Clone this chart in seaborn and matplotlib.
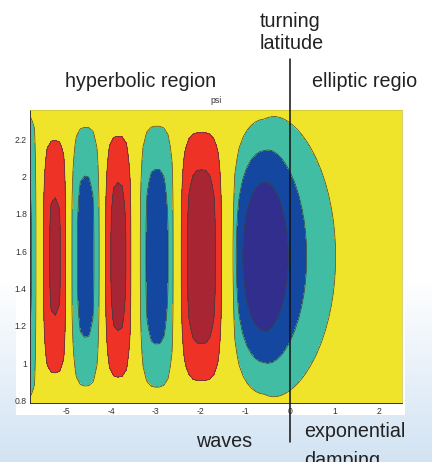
import numpy as np
import seaborn as sns
import matplotlib.pyplot as plt
import matplotlib.transforms as mtransforms
from matplotlib.patches import Rectangle

# wave lobes of psi west of the turning latitude
small_center = [-5.82, -5.26, -4.57, -3.84, -2.975, -1.977]
small_amp = [-0.573, 0.58, -0.615, 0.61, -0.636, 0.655]
small_xhalf = [0.205, 0.354, 0.41, 0.379, 0.491, 0.586]
small_yhalf = [1.03, 0.85, 0.919, 0.858, 0.914, 0.858]
shape_power = 3
# big lobe at the turning latitude, damped to the east
big_center = -0.55
big_amp = -1.0
big_left_curv = 1.0
big_left = 0.851
big_left_power = 14
tail_width = 1.06
tail_power = 1.55
lat_power = 3.5
lat_spread = 0.26

levels = [-2.0, -0.75, -0.55, -0.35, 0.35, 0.55, 2.0]
band_colors = ['#322E8E', '#1448A0', '#40BDA3', '#F0E42A', '#EE3326', '#A82634']

x_lim = (-5.81, 2.51)
y_lim = (np.pi / 4, 3 * np.pi / 4)
x_ticks = [-5, -4, -3, -2, -1, 0, 1, 2]
y_ticks = [0.8, 1.0, 1.2, 1.4, 1.6, 1.8, 2.0, 2.2]
y_ticklabels = ['0.8', '1', '1.2', '1.4', '1.6', '1.8', '2', '2.2']

sns.set_style("white")
plt.rcParams['font.family'] = ['Liberation Sans', 'DejaVu Sans']
plt.rcParams['axes.unicode_minus'] = False

# field on a coarse grid like the original
x = np.linspace(x_lim[0], x_lim[1], 90)
y = np.linspace(y_lim[0], y_lim[1], 25)
X, Y = np.meshgrid(x, y)
dy = Y - np.pi / 2
Z = np.zeros_like(X)
for c, a, hx, hy in zip(small_center, small_amp, small_xhalf, small_yhalf):
    gx = np.clip(1 - np.abs((X - c) / hx) ** shape_power, 0, None)
    gy = np.clip(1 - np.abs(dy / hy) ** shape_power, 0, None)
    Z += a * gx * gy

D = X - big_center
prof = np.zeros_like(X)
left = D <= 0
dl = np.abs(D[left])
prof[left] = np.clip(1 - big_left_curv * dl ** 2 - (dl / big_left) ** big_left_power, 0, None)
right = D > 0
prof[right] = 1 / (1 + (D[right] / tail_width) ** tail_power)
# the lobe widens in latitude toward the east
stretch = 1 + lat_spread * np.clip(D, 0, None)
lat = np.cos(np.clip(dy / stretch, -np.pi / 2, np.pi / 2)) ** lat_power
Z += big_amp * lat * prof

W, H = 432, 462
fig = plt.figure(figsize=(W / 100, H / 100), dpi=100)

# slide background: white fading to light blue, with white figure panel
bg = fig.add_axes([0, 0, 1, 1], zorder=-2)
rows = np.linspace(0, 1, H)
t = np.clip((rows * H - 280) / (H - 280), 0, 1)
top = np.array([1.0, 1.0, 1.0])
bot = np.array([210, 227, 243]) / 255
grad = (top[None, :] * (1 - t[:, None]) + bot[None, :] * t[:, None])[:, None, :]
bg.imshow(grad, aspect='auto', extent=[0, 1, 0, 1])
bg.add_patch(Rectangle((16 / W, 1 - 415 / H), 389 / W, 415 / H,
                       facecolor='white', edgecolor='none', transform=bg.transAxes))
bg.axis('off')

ax = fig.add_axes([30.3 / W, 1 - 403.3 / H, 371.4 / W, 293.3 / H])
pal = sns.color_palette(band_colors)
ax.contourf(x, y, Z, levels=levels, colors=pal)
ax.contour(x, y, Z, levels=levels[1:-1], colors='#3c3c3c', linewidths=0.5,
           negative_linestyles='solid')
ax.set_xlim(*x_lim)
ax.set_ylim(*y_lim)
ax.set_xticks(x_ticks)
ax.set_xticklabels([str(v) for v in x_ticks])
ax.set_yticks(y_ticks)
ax.set_yticklabels(y_ticklabels)
ax.tick_params(length=0, labelsize=6.2, pad=2.5, labelcolor='#333333')
ax.set_title('psi', fontsize=6.2, pad=5, color='#333333')
for s in ['bottom', 'left']:
    ax.spines[s].set_color('#333333')
    ax.spines[s].set_linewidth(0.7)
for s in ['top', 'right']:
    ax.spines[s].set_color('#c8be3a')
    ax.spines[s].set_linewidth(0.5)

# turning latitude line
trans = mtransforms.blended_transform_factory(ax.transData, fig.transFigure)
ax.plot([0, 0], [1 - 59 / H, 1 - 442 / H], transform=trans, color='#111111',
        lw=1.1, clip_on=False, zorder=5)

tkw = dict(ha='left', va='baseline', fontsize=14.2, color='#222222')
fig.text(260 / W, 1 - 26.7 / H, 'turning', **tkw)
fig.text(260 / W, 1 - 49 / H, 'latitude', **tkw)
fig.text(65 / W, 1 - 87.3 / H, 'hyperbolic region', **tkw)
fig.text(312 / W, 1 - 87.3 / H, 'elliptic regio', **tkw)
fig.text(196 / W, 1 - 446.7 / H, 'waves', **tkw)
fig.text(304 / W, 1 - 437.3 / H, 'exponential', **tkw)
fig.text(304 / W, 1 - 466 / H, 'damping', **tkw)

fig.savefig('out.png', dpi=100)
